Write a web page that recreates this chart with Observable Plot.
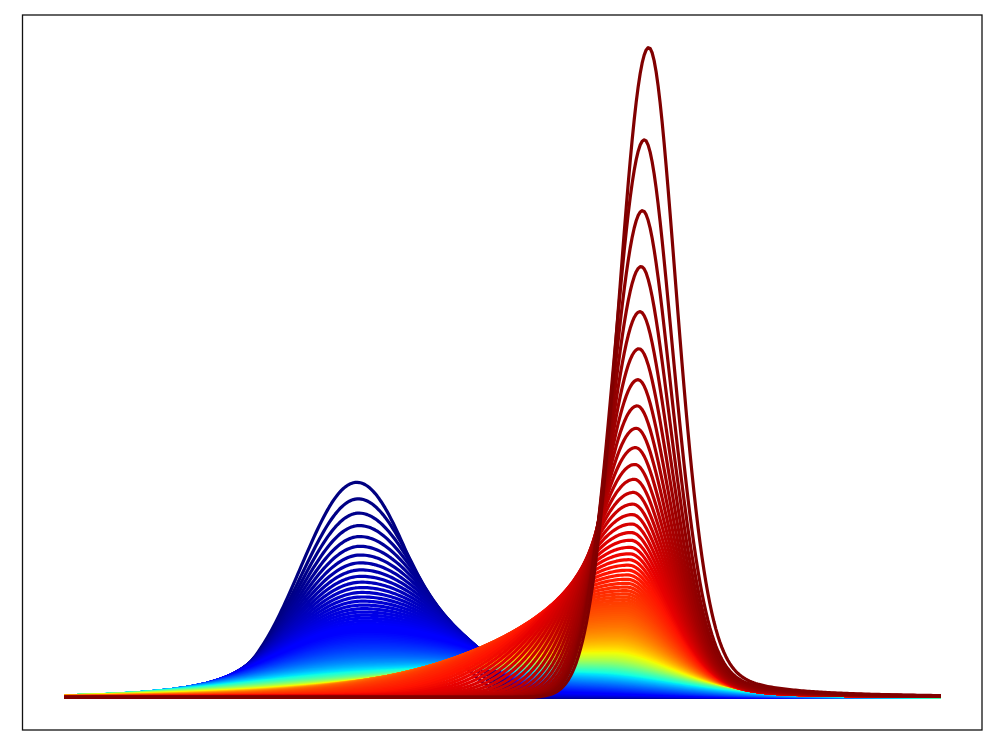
<!DOCTYPE html>
<html>
<head>
<meta charset="utf-8">
<script src="https://cdn.jsdelivr.net/npm/d3@7"></script>
<script src="https://cdn.jsdelivr.net/npm/@observablehq/plot@0.6"></script>
<style>
  html, body { margin: 0; padding: 0; background: #ffffff; }
  #chart svg { display: block; }
</style>
</head>
<body>
<div id="chart"></div>
<script>
// ---- Values (x as fraction of the data span, y relative to the tallest peak) ----
const peakLabels    = ["start", "end"];
const peakCenters   = [0.3336, 0.6666];   // peak position of first / last curve
const peakHeights   = [0.331, 1.0];       // peak height of first / last curve
const peakWidths    = [0.0639, 0.0342];   // core width of first / last curve
const blueSpread    = [0.0521, 0.1432];   // variance growth of the blue bump: left side, right side
const redSpreadOut  = 0.0125;             // variance growth of the red bump's right side
const redSpreadIn   = [0.0342, 6.845, 0.1369]; // width growth of the red bump's left side
const driftAmount   = [0.0228, 0.0707];   // drift of each bump toward the other one
const redTail       = 0.28;               // heavy (Lorentzian) tail share on the red bump's right side
const blueDecay     = [4.65, 72, 1.0];    // blue bump height along the family
const redDecay      = [1.54, 50, 150, 10, 200]; // red bump height along the family
const blueCutoff    = [0.5055, 0.0137, 0.3];  // where the blue bump's right shoulder ends
const curveCount    = 200;
const sampleCount   = 440;

// ---- jet colour map ----
function seg(t, pts) {
  for (let i = 1; i < pts.length; i++) {
    if (t <= pts[i][0]) {
      const [x0, y0] = pts[i - 1], [x1, y1] = pts[i];
      return y0 + (y1 - y0) * (t - x0) / (x1 - x0);
    }
  }
  return pts[pts.length - 1][1];
}
function jet(t) {
  t = Math.max(0, Math.min(1, t));
  const r = seg(t, [[0, 0], [0.35, 0], [0.66, 1], [0.89, 1], [1, 0.5]]);
  const g = seg(t, [[0, 0], [0.125, 0], [0.375, 1], [0.64, 1], [0.91, 0], [1, 0]]);
  const b = seg(t, [[0, 0.5], [0.11, 1], [0.34, 1], [0.65, 0], [1, 0]]);
  return `rgb(${Math.round(r * 255)},${Math.round(g * 255)},${Math.round(b * 255)})`;
}

// ---- curve family ----
function blueBump(t, x) {
  const h = Math.pow(1 - t, blueDecay[2]) * (peakHeights[0] * blueDecay[0]) / (blueDecay[0] + blueDecay[1] * t);
  if (h <= 0) return 0;
  const mu = peakCenters[0] + driftAmount[0] * Math.sqrt(t);
  const s0 = peakWidths[0] * peakWidths[0];
  const sig = x < mu ? Math.sqrt(s0 + blueSpread[0] * t) : Math.sqrt(s0 + blueSpread[1] * t);
  const d = x - mu;
  const k = Math.exp(-(t / blueCutoff[2]) * (t / blueCutoff[2]));
  const cut = 1 - k / (1 + Math.exp(-(x - blueCutoff[0]) / blueCutoff[1]));
  return h * Math.exp(-d * d / (2 * sig * sig)) * cut;
}
function redBump(t, x) {
  const s = 1 - t;
  const s6 = Math.pow(s, 6);
  const denom = redDecay[0] + redDecay[1] * s + redDecay[2] * s * s / (1 + redDecay[3] * s) + redDecay[4] * s6;
  const h = (1 - s6) * (peakHeights[1] * redDecay[0]) / denom;
  if (h <= 0) return 0;
  const mu = peakCenters[1] - driftAmount[1] * Math.sqrt(s);
  const d = x - mu;
  if (x < mu) {
    const q = redSpreadIn[0] * s + redSpreadIn[1] * s * s;
    const sig = peakWidths[1] + q / Math.sqrt(1 + (q / redSpreadIn[2]) * (q / redSpreadIn[2]));
    return h * Math.exp(-d * d / (2 * sig * sig));
  }
  const sig = Math.sqrt(peakWidths[1] * peakWidths[1] + redSpreadOut * s);
  const g = Math.exp(-d * d / (2 * sig * sig));
  const l = 1 / (1 + (d / sig) * (d / sig));
  return h * ((1 - redTail) * g + redTail * l);
}

const rows = [];
for (let i = 0; i < curveCount; i++) {
  const t = i / (curveCount - 1);
  for (let k = 0; k <= sampleCount; k++) {
    const x = k / sampleCount;
    rows.push({curve: i, t, x, y: blueBump(t, x) + redBump(t, x)});
  }
}

const chart = Plot.plot({
  width: 997,
  height: 753,
  marginLeft: 22,
  marginRight: 15.5,
  marginTop: 14.5,
  marginBottom: 23.5,
  x: {domain: [-0.0479, 1.0468], axis: null},
  y: {domain: [-0.05, 1.05], axis: null},
  color: {type: "linear", domain: [0, 1], interpolate: jet},
  marks: [
    Plot.line(rows, {x: "x", y: "y", z: "curve", stroke: "t", strokeWidth: 3.2, strokeLinecap: "butt"}),
    Plot.frame({stroke: "#111", strokeWidth: 1.3})
  ]
});
document.getElementById("chart").appendChild(chart);
</script>
</body>
</html>
